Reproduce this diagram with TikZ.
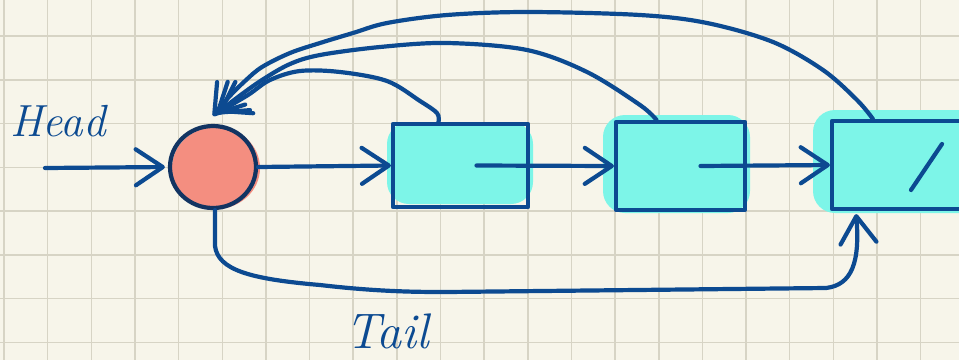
\documentclass[tikz,border=0pt]{standalone}
\usetikzlibrary{arrows.meta,shapes.geometric,calc}
\definecolor{paper}{HTML}{F7F5EA}
\definecolor{gridline}{HTML}{D7D4C5}
\definecolor{pen}{HTML}{0C4A91}
\definecolor{ink}{HTML}{123462}
\definecolor{salmon}{HTML}{F48E80}
\definecolor{aqua}{HTML}{7DF5E8}
\begin{document}
\begin{tikzpicture}[x=1pt,y=-1pt,
  gridrule/.style={draw=gridline, line width=1.5pt},
  pen/.style={draw=pen, line width=4.2pt, line cap=round, line join=round},
  barb/.style={-{Straight Barb[length=27pt,width=36pt,round]}},
  box/.style={pen, rectangle, inner sep=0pt},
  marker/.style={fill=aqua, rounded corners=22pt},
  hand/.style={text=pen, inner sep=0pt, font=\itshape\fontsize{#1}{#1}\selectfont}
]
% paper and squared grid
\fill[paper] (0,0) rectangle (959,360);
\clip (0,0) rectangle (959,360);
\foreach \i in {0,...,21} \draw[gridrule] ({4+43.65*\i},0) -- ++(0,360);
\foreach \j in {0,...,8} \draw[gridrule] (0,{-7.7+43.75*\j}) -- ++(959,0);

% highlighter marks behind the list cells
\fill[salmon] (216,168) ellipse [x radius=44, y radius=41];
\fill[marker] (387,122) rectangle (533,204);
\fill[marker] (603,115) rectangle (750,213);
\fill[marker] (813,110) rectangle (990,213);

% head sentinel and list cells
\node[ellipse, draw=ink, line width=4.2pt, minimum width=86pt, minimum height=82pt, inner sep=0pt] (head) at (213,167) {};
\node[box, minimum width=135pt, minimum height=83pt] (b1) at (460.5,165.5) {};
\node[box, minimum width=129pt, minimum height=88pt] (b2) at (680.5,166) {};
\node[box, minimum width=168pt, minimum height=88pt] (b3) at (916,165) {};

% null pointer in the last cell
\draw[pen] ($(b3.center)+(26,-21)$) -- ($(b3.center)+(-5,25)$);

% labels
\node[hand=45, anchor=base west] (headlabel) at (10,136) {Head};
\node[hand=50, anchor=base west] (taillabel) at (345,348) {Tail};

% forward links
\coordinate (hstart) at (45,168);
\draw[pen, barb, shorten >=3pt] (hstart) -- (head.west);
\draw[pen, barb] (head.east) -- (b1.west);
\draw[pen, barb] ([xshift=16pt]b1.center) -- (b2.west);
\draw[pen, barb] ([xshift=20pt]b2.center) -- (b3.west);

% tail pointer
\coordinate (tailtip) at ([xshift=26pt]b3.south west);
\draw[pen, barb, shorten >=3pt] ([xshift=2pt]head.south) -- (215,246)
  .. controls (218,270) and (250,279) .. (320,285)
  .. controls (380,292) and (420,292) .. (447,292)
  -- (826,288) .. controls (852,285) and (860,262) .. (tailtip);

% back links to the head
\coordinate (c1s) at ([xshift=-22pt]b1.north);
\coordinate (c2s) at ([xshift=-24pt]b2.north);
\coordinate (c3s) at ([xshift=43pt]b3.north west);
\coordinate (tip1) at (219,112);
\coordinate (tip2) at (216,114);
\coordinate (tip3) at (213,116);
\draw[pen, barb] plot[smooth, tension=0.55] coordinates
  {(c1s) (437,113) (420,101) (387,81) (340,72) (300,71) (270,80) (248,95) (tip1)};
\draw[pen, barb] plot[smooth, tension=0.55] coordinates
  {(c2s) (640,105) (587,72) (527,50) (447,43) (380,47) (320,55) (290,64) (262,80) (238,97) (tip2)};
\draw[pen, barb] plot[smooth, tension=0.55] coordinates
  {(c3s) (857,100) (823,70) (773,42) (707,23) (640,15) (527,12) (447,15) (387,23) (353,33) (320,43) (290,53) (262,67) (245,81) (228,98) (tip3)};
\end{tikzpicture}
\end{document}
